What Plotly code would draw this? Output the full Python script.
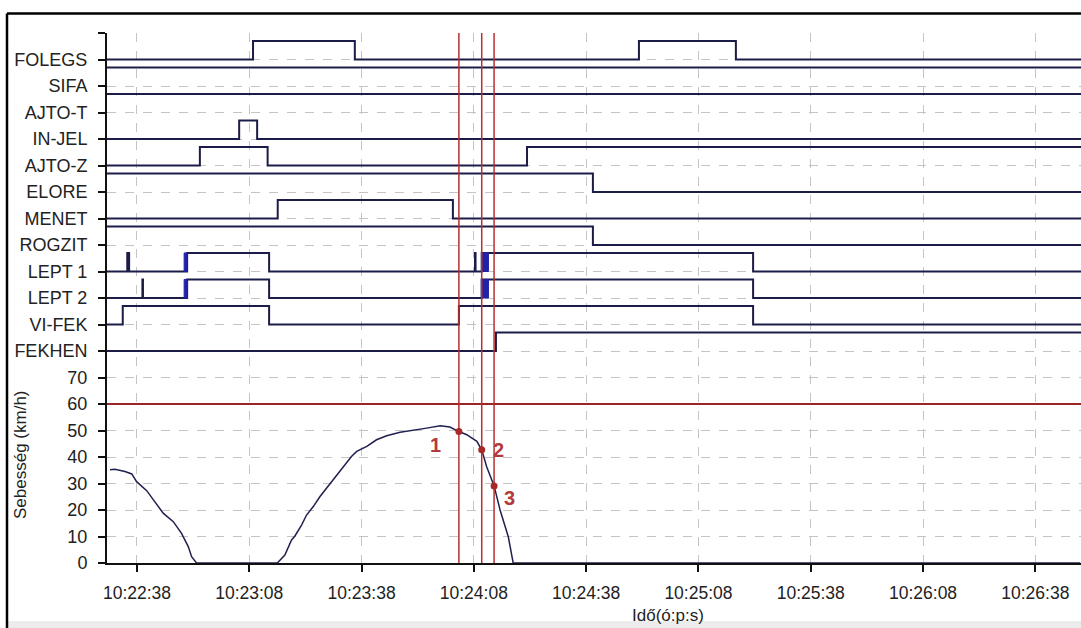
import plotly.graph_objects as go

# ---------------- data ----------------
# time in seconds after 10:22:38
tick_labels = ["10:22:38", "10:23:08", "10:23:38", "10:24:08", "10:24:38",
               "10:25:08", "10:25:38", "10:26:08", "10:26:38"]

signal_names = ["FOLEGS", "SIFA", "AJTO-T", "IN-JEL", "AJTO-Z", "ELORE",
                "MENET", "ROGZIT", "LEPT 1", "LEPT 2", "VI-FEK", "FEKHEN"]
signal_rows = [190, 180, 170, 160, 150, 140, 130, 120, 110, 100, 90, 80]
signal_start_state = [0, 1, 1, 0, 0, 1, 0, 1, 0, 0, 0, 0]

folegs_edges = [31.0, 58.2, 134.1, 160.0]
sifa_edges = []
ajto_t_edges = []
in_jel_edges = [27.3, 32.1]
ajto_z_edges = [16.8, 34.9, 104.2]
elore_edges = [121.8]
menet_edges = [37.6, 84.4]
rogzit_edges = [121.8]
lept1_edges = [-2.6, -2.1, 13.4, 35.3, 90.3, 90.45, 92.1, 164.6]
lept2_edges = [1.45, 1.6, 13.4, 35.3, 92.1, 164.6]
vi_fek_edges = [-3.8, 35.3, 86.0, 164.6]
fekhen_edges = [95.9]

# rapid toggling bursts (drawn as thick blue blocks)
burst_signal = ["LEPT 1", "LEPT 1", "LEPT 2", "LEPT 2"]
burst_start = [12.6, 92.1, 12.6, 92.0]
burst_end = [13.4, 93.9, 13.4, 93.9]

speed_t = [-7.2, -5.9, -3.2, -1.4, -0.1, 2.6, 4.4, 7.0, 9.7, 11.9, 13.7, 14.6, 15.9,
           37.5, 39.5, 41.3, 42.2, 44.0, 45.3, 47.1, 48.9, 51.1, 53.4, 55.6, 57.3,
           58.7, 61.4, 64.0, 66.7, 70.3, 73.8, 77.4, 81.0, 83.6, 86.0, 88.1, 90.8,
           92.1, 93.4, 95.4, 97.0, 99.2, 100.5, 252.0]
speed_v = [35.2, 35.4, 34.5, 33.6, 30.7, 27.3, 23.8, 18.8, 15.6, 11.2, 6.2, 2.4, 0,
           0, 3.0, 8.7, 10.2, 14.4, 18.1, 21.3, 25.1, 29.1, 33.3, 37.1, 40.2,
           42.1, 44.0, 46.5, 48.0, 49.3, 50.0, 50.9, 51.8, 51.3, 49.6, 48.4, 45.9,
           42.7, 36.4, 29.1, 20.0, 9.9, 0, 0]

speed_limit = 60
cursor_times = [86.0, 92.1, 95.4]
cursor_speeds = [49.6, 42.7, 29.1]
cursor_labels = ["1", "2", "3"]

speed_ticks = [0, 10, 20, 30, 40, 50, 60, 70]

# ---------------- layout constants ----------------
W, H = 1081, 628
ML, MR, MT, MB = 107, 0, 33, 65
X_MIN, X_MAX = -8.01, 252.2
Y_MIN, Y_MAX = 0, 200
HIGH = 7

SIG_COLOR = "#1c1c48"
RED = "#b53030"
FONT = "Liberation Sans, Arial, sans-serif"

edges = [folegs_edges, sifa_edges, ajto_t_edges, in_jel_edges, ajto_z_edges,
         elore_edges, menet_edges, rogzit_edges, lept1_edges, lept2_edges,
         vi_fek_edges, fekhen_edges]


def to_seconds(lbl):
    h, m, s = (int(p) for p in lbl.split(":"))
    h0, m0, s0 = (int(p) for p in tick_labels[0].split(":"))
    return (h * 3600 + m * 60 + s) - (h0 * 3600 + m0 * 60 + s0)


fig = go.Figure()

# signals as step lines
for name, base, st, ed in zip(signal_names, signal_rows, signal_start_state, edges):
    xs, ys = [X_MIN], [base + HIGH * st]
    state = st
    for t in ed:
        state = 1 - state
        xs.append(t)
        ys.append(base + HIGH * state)
    xs.append(X_MAX)
    ys.append(base + HIGH * state)
    fig.add_trace(go.Scatter(x=xs, y=ys, mode="lines", line=dict(color=SIG_COLOR, width=2, shape="hv"),
                             hoverinfo="skip", showlegend=False, name=name))

# bursts
for sig, a, b in zip(burst_signal, burst_start, burst_end):
    base = signal_rows[signal_names.index(sig)]
    fig.add_trace(go.Scatter(x=[a, b, b, a, a], y=[base, base, base + HIGH, base + HIGH, base],
                             mode="lines", fill="toself", fillcolor="#2222a8",
                             line=dict(color="#2222a8", width=1), hoverinfo="skip", showlegend=False))

# speed limit line
fig.add_trace(go.Scatter(x=[X_MIN, X_MAX], y=[speed_limit, speed_limit], mode="lines",
                         line=dict(color="#9a2525", width=2), hoverinfo="skip", showlegend=False))

# speed curve
fig.add_trace(go.Scatter(x=speed_t, y=speed_v, mode="lines", line=dict(color="#202050", width=1.5),
                         hoverinfo="skip", showlegend=False))

# cursors
for t in cursor_times:
    fig.add_trace(go.Scatter(x=[t, t], y=[Y_MIN, Y_MAX], mode="lines", line=dict(color=RED, width=1.5),
                             hoverinfo="skip", showlegend=False))

fig.add_trace(go.Scatter(x=cursor_times, y=cursor_speeds, mode="markers",
                         marker=dict(color="#a82828", size=7), hoverinfo="skip", showlegend=False))

label_shift = [(-23, -13), (17, 0), (15, -12)]
for t, v, lbl, (dx, dy) in zip(cursor_times, cursor_speeds, cursor_labels, label_shift):
    fig.add_annotation(x=t, y=v, text="<b>%s</b>" % lbl, showarrow=False, xshift=dx, yshift=dy,
                       xanchor="center", yanchor="middle",
                       font=dict(family=FONT, size=20, color="#b23a3a"))

# axes
ytickvals = speed_ticks + signal_rows[::-1] + [Y_MAX]
yticktext = [str(v) for v in speed_ticks] + signal_names[::-1] + [""]

fig.update_xaxes(range=[X_MIN, X_MAX], tickvals=[to_seconds(l) for l in tick_labels], ticktext=tick_labels,
                 showgrid=True, gridcolor="#c4c4c4", griddash="dash", gridwidth=1,
                 showline=True, linecolor="#111", linewidth=2, ticks="outside", ticklen=7,
                 tickcolor="#111", tickwidth=2, zeroline=False, ticklabelstandoff=6,
                 tickfont=dict(family=FONT, size=17.5, color="#222"))
fig.update_yaxes(range=[Y_MIN, Y_MAX], tickvals=ytickvals, ticktext=yticktext,
                 showgrid=True, gridcolor="#c4c4c4", griddash="dash", gridwidth=1,
                 showline=True, linecolor="#111", linewidth=2, ticks="outside", ticklen=7,
                 tickcolor="#111", tickwidth=2, zeroline=False, ticklabelstandoff=7,
                 tickfont=dict(family=FONT, size=18, color="#222"))

PW = W - ML - MR
PH = H - MT - MB


def px(xp):
    return (xp - ML) / PW


def py(yp):
    return (H - MB - yp) / PH


# axis titles
fig.add_annotation(xref="paper", yref="paper", x=px(20), y=py(455), text="Sebesség (km/h)", textangle=-90,
                   xanchor="center", yanchor="middle", showarrow=False,
                   font=dict(family=FONT, size=17, color="#222"))
fig.add_annotation(xref="paper", yref="paper", x=px(668), y=py(615), text="Idő(ó:p:s)",
                   xanchor="center", yanchor="middle", showarrow=False,
                   font=dict(family=FONT, size=17, color="#222"))

# frame
fig.add_shape(type="rect", xref="paper", yref="paper", x0=px(7), x1=px(W + 5), y0=py(621), y1=py(H + 5),
              line=dict(width=0), fillcolor="#ececec", layer="below")
fig.add_shape(type="line", xref="paper", yref="paper", x0=px(7), x1=px(W + 5), y0=py(13.5), y1=py(13.5),
              line=dict(color="#000", width=2.5))
fig.add_shape(type="line", xref="paper", yref="paper", x0=px(7), x1=px(7), y0=py(13.5), y1=py(H + 5),
              line=dict(color="#000", width=2.5))

fig.update_layout(width=W, height=H, margin=dict(l=ML, r=MR, t=MT, b=MB),
                  plot_bgcolor="#ffffff", paper_bgcolor="#ffffff", showlegend=False)

fig.write_html("out.html", config={"displayModeBar": False},
               post_script="document.body.style.margin='0';document.body.style.overflow='hidden';")
